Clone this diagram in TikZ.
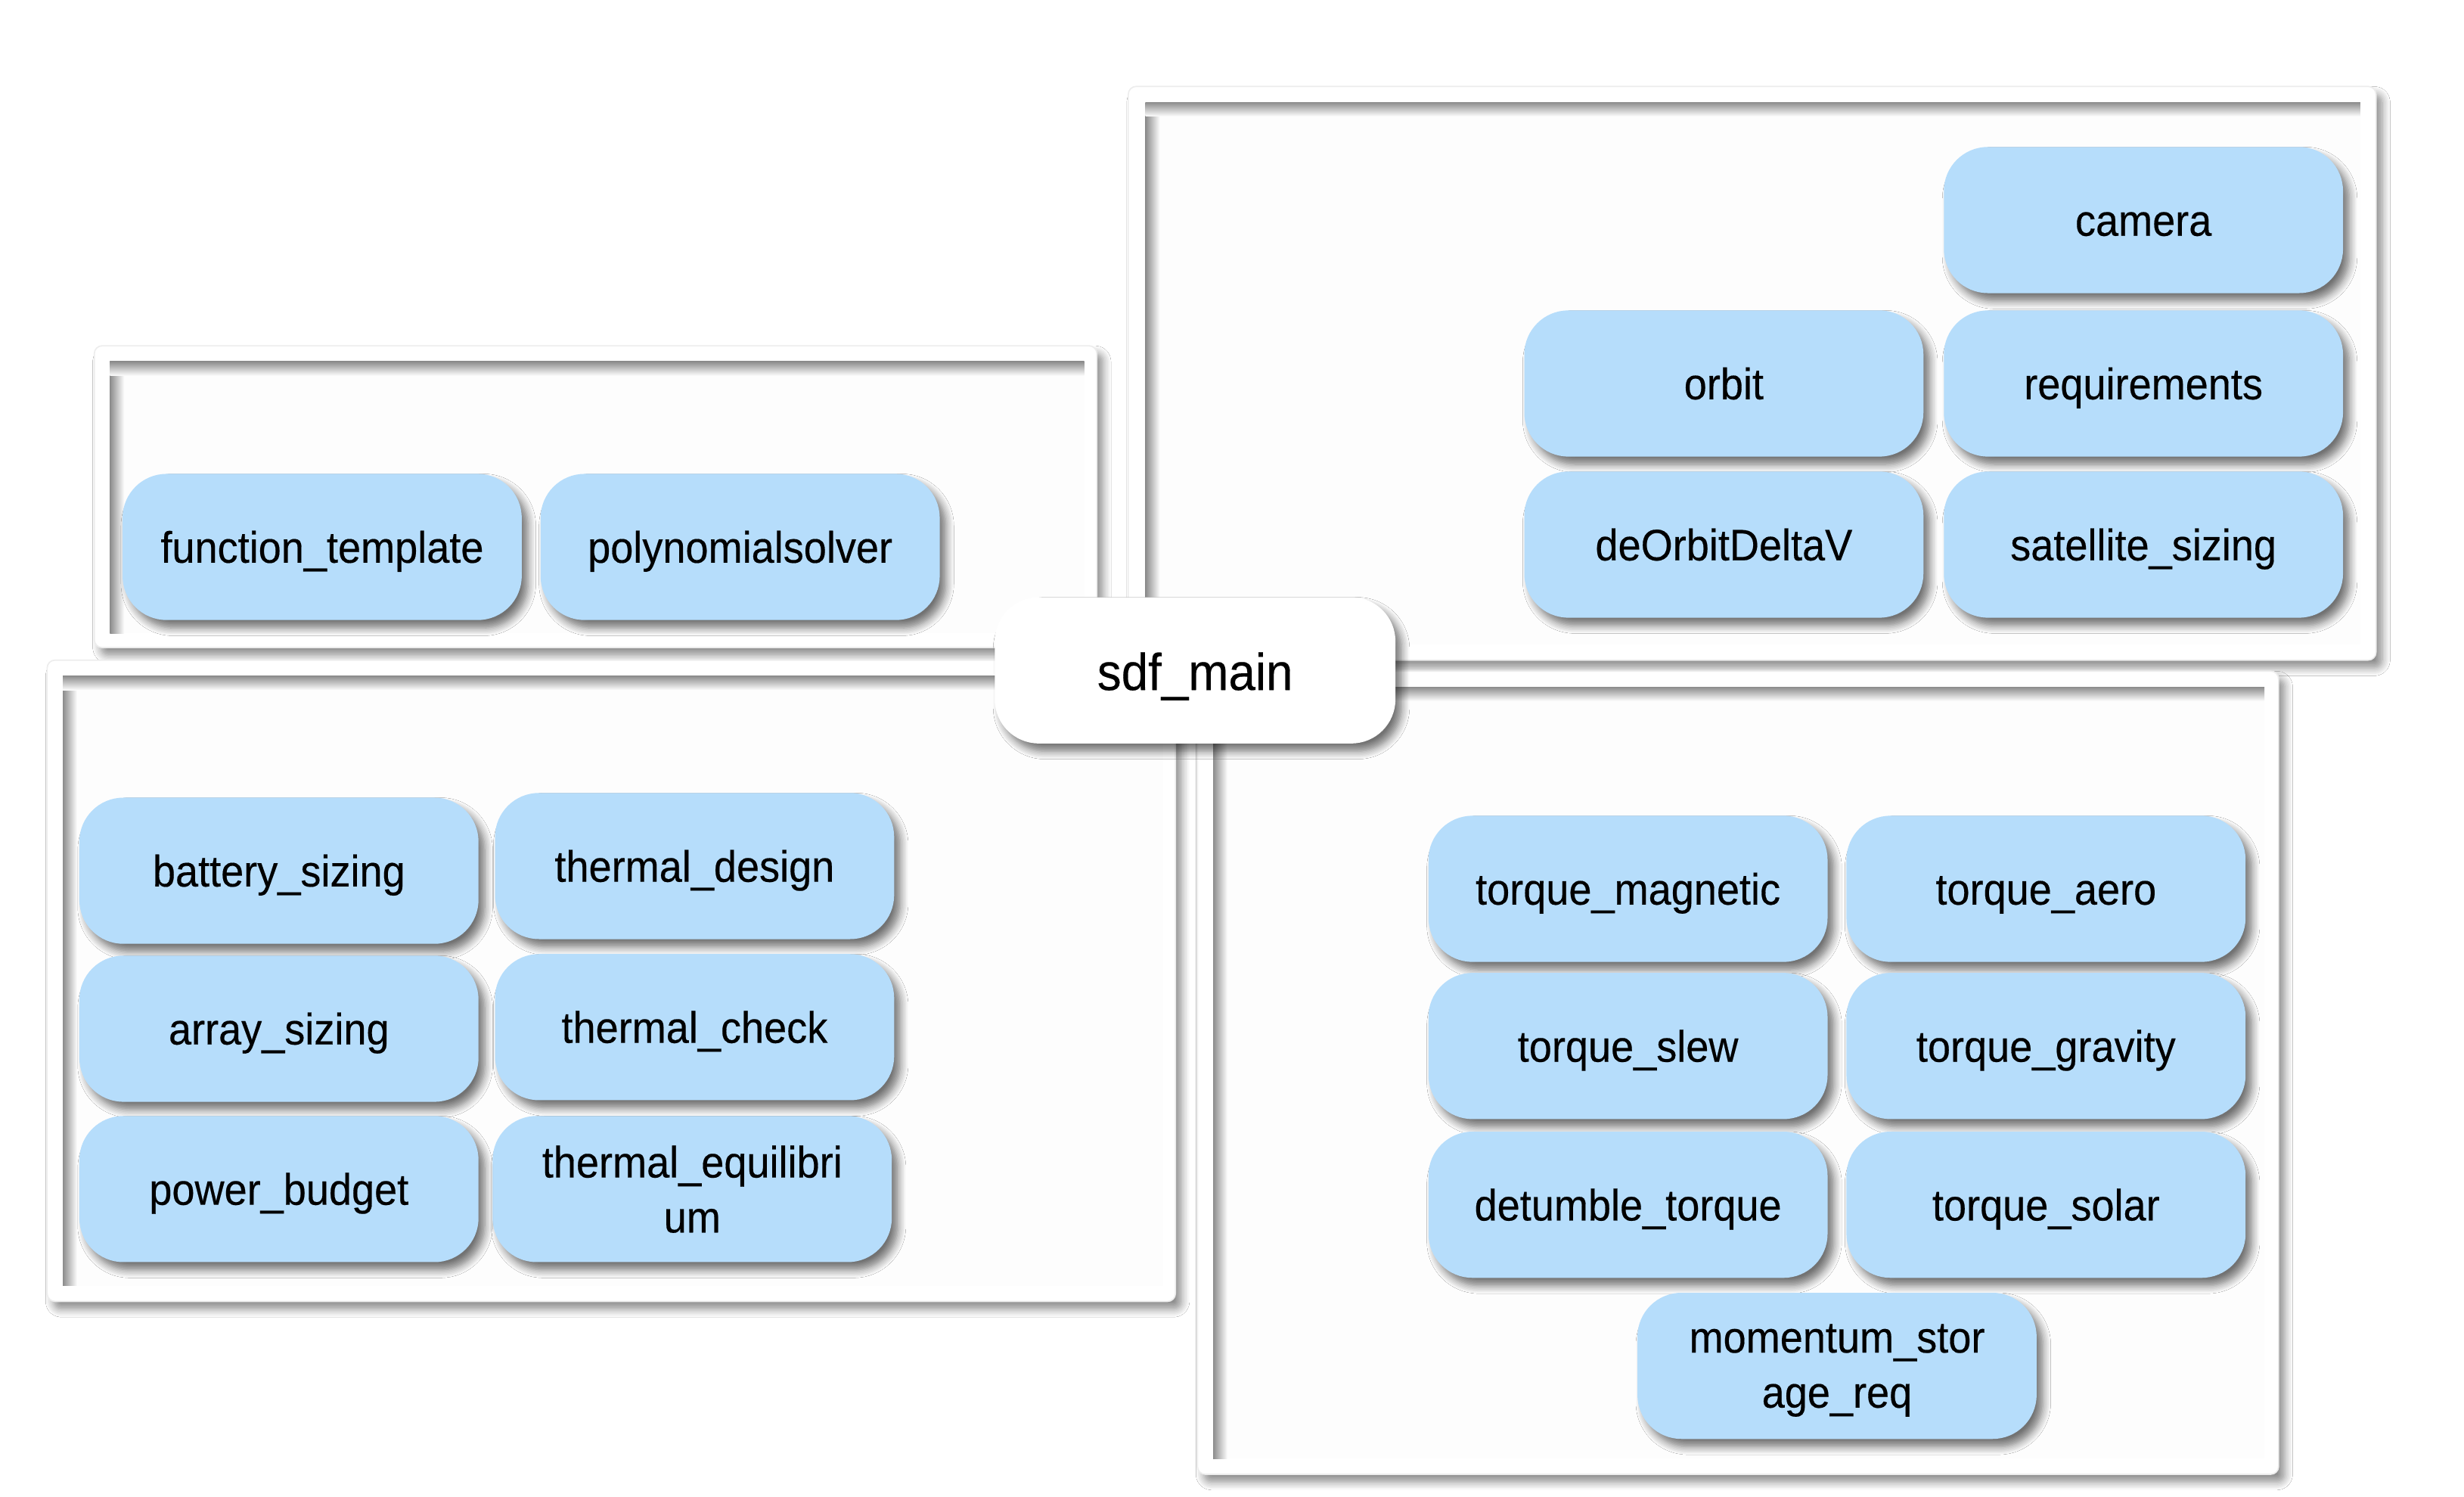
\documentclass[tikz,border=0pt]{standalone}
\usepackage{fontspec}
\setmainfont{Liberation Sans}
\newfontfamily\nodefont[FakeStretch=0.93, FakeBold=0.3]{Liberation Sans}
\usetikzlibrary{shadows.blur}
\definecolor{nodeblue}{HTML}{B6DDFB}
\definecolor{innerfill}{HTML}{FDFDFD}
\tikzset{
  grp/.style={fill=white, draw=black!7, line width=0.8pt, rounded corners=5pt,
    blur shadow={shadow xshift=4pt, shadow yshift=-5pt, shadow blur radius=5pt, shadow blur steps=8, shadow opacity=45}},
  innerbox/.style={fill=innerfill, draw=none},
  insettop/.style={top color=black!45, bottom color=innerfill},
  insetleft/.style={left color=black!45, right color=innerfill},
  fnbase/.style={rectangle, fill=nodeblue, rounded corners=28pt, minimum width=254pt, minimum height=93pt,
    inner sep=0pt, align=center, text=black, font=\nodefont\fontsize{28}{35}\selectfont,
    blur shadow={shadow xshift=4pt, shadow yshift=-5pt, shadow blur radius=5pt, shadow blur steps=8, shadow opacity=55}},
  fn/.style={fnbase, text height=23pt, text depth=3pt},
  fntwo/.style={fnbase, text depth=0pt},
  mainnode/.style={fnbase, fill=white, minimum width=255pt, font=\nodefont\fontsize{33}{37}\selectfont,
    text height=28pt, text depth=3pt},
}
\newcommand{\grpframe}[8]{%
  \path[grp] (#1,#2) rectangle (#3,#4);
  \path[innerbox] (#5,#6) rectangle (#7,#8);
  \shade[insetleft] (#5,#6) rectangle ({#5+9},#8);
  \shade[insettop] (#5,#6) rectangle (#7,{#6+9});
}
\begin{document}
\begin{tikzpicture}[x=1pt, y=-1pt]
\useasboundingbox[fill=white] (0,0) rectangle (1568,952.4);

% group frames
\grpframe{60}{220}{698}{412}{70}{230}{690}{403}
\grpframe{718}{55}{1512}{420}{729}{65}{1502}{410}
\grpframe{30}{420}{748}{828}{40}{430}{740}{818}
\grpframe{762}{427}{1450}{938}{772}{437}{1441}{928}

% top-left group
\node[fn] (ft) at (205,348) {function\_template};
\node[fn] (ps) at (471,348) {polynomialsolver};

% top-right group
\node[fn] (cam) at (1364,140) {camera};
\node[fn] (orb) at (1097,244) {orbit};
\node[fn] (req) at (1364,244) {requirements};
\node[fn] (dov) at (1097,346.5) {deOrbitDeltaV};
\node[fn] (sat) at (1364,346.5) {satellite\_sizing};

% bottom-left group
\node[fn] (bat) at (177.5,554) {battery\_sizing};
\node[fn] (thd) at (442,551) {thermal\_design};
\node[fn] (arr) at (177.5,654.5) {array\_sizing};
\node[fn] (thc) at (442,653.5) {thermal\_check};
\node[fn] (pow) at (177.5,756.5) {power\_budget};
\node[fntwo] (the) at (440.5,756.5) {thermal\_equilibri\\um};

% bottom-right group
\node[fn] (tmag) at (1036,565.5) {torque\_magnetic};
\node[fn] (taer) at (1302,565.5) {torque\_aero};
\node[fn] (tsle) at (1036,665.5) {torque\_slew};
\node[fn] (tgra) at (1302,665.5) {torque\_gravity};
\node[fn] (detu) at (1036,766.5) {detumble\_torque};
\node[fn] (tsol) at (1302,766.5) {torque\_solar};
\node[fntwo] (mom) at (1169,869) {momentum\_stor\\age\_req};

% central node
\node[mainnode] (main) at (760.5,426.5) {sdf\_main};
\end{tikzpicture}
\end{document}
